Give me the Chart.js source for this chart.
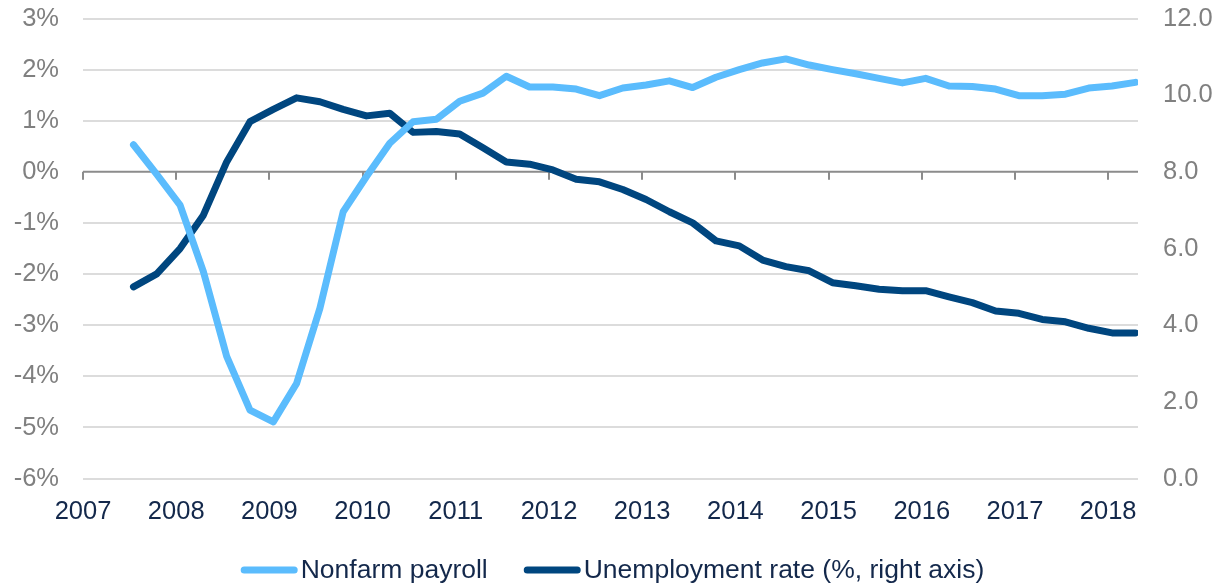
<!DOCTYPE html>
<html>
<head>
<meta charset="utf-8">
<script src="https://cdn.jsdelivr.net/npm/chart.js@4"></script>
<style>
html,body{margin:0;padding:0;background:#fff;}
#wrap{width:1227px;height:585px;position:relative;}
</style>
</head>
<body>
<div id="wrap"><canvas id="c" width="1227" height="585"></canvas></div>
<script>
const quarters = ['2007Q3','2007Q4','2008Q1','2008Q2','2008Q3','2008Q4','2009Q1','2009Q2','2009Q3','2009Q4',
  '2010Q1','2010Q2','2010Q3','2010Q4','2011Q1','2011Q2','2011Q3','2011Q4','2012Q1','2012Q2','2012Q3','2012Q4',
  '2013Q1','2013Q2','2013Q3','2013Q4','2014Q1','2014Q2','2014Q3','2014Q4','2015Q1','2015Q2','2015Q3','2015Q4',
  '2016Q1','2016Q2','2016Q3','2016Q4','2017Q1','2017Q2','2017Q3','2017Q4','2018Q1','2018Q2'];
const payroll = [0.53,-0.05,-0.65,-1.95,-3.61,-4.66,-4.89,-4.14,-2.67,-0.78,
  -0.09,0.56,0.98,1.03,1.38,1.54,1.87,1.66,1.66,1.62,1.49,1.64,
  1.70,1.78,1.65,1.85,2.00,2.13,2.21,2.09,2.00,1.92,1.83,1.74,
  1.83,1.68,1.67,1.62,1.49,1.49,1.52,1.64,1.68,1.75];
const unemployment = [5.00,5.34,6.00,6.87,8.26,9.31,9.63,9.93,9.83,9.63,
  9.46,9.53,9.03,9.05,8.99,8.63,8.26,8.20,8.05,7.81,7.74,7.54,
  7.28,6.96,6.67,6.20,6.07,5.70,5.53,5.42,5.11,5.03,4.94,4.90,
  4.90,4.74,4.59,4.37,4.31,4.15,4.09,3.92,3.80,3.80];
const leftTicks = [-6,-5,-4,-3,-2,-1,0,1,2,3];
const rightTicks = [0,2,4,6,8,10,12];
const yearTicks = [2007,2008,2009,2010,2011,2012,2013,2014,2015,2016,2017,2018];

function qToX(q){ const y = parseInt(q.slice(0,4),10); const n = parseInt(q.slice(5),10); return y + (n-1)/4 + 1/24; }
const payrollPts = quarters.map((q,i)=>({x:qToX(q), y:payroll[i]}));
const unempPts = quarters.map((q,i)=>({x:qToX(q), y:unemployment[i]}));

const FONT = '"Liberation Sans", Arial, sans-serif';
const zeroLine = {
  id:'zeroLine',
  beforeDatasetsDraw(chart){
    const {ctx, chartArea, scales} = chart;
    const y0 = scales.y.getPixelForValue(0);
    ctx.save();
    ctx.strokeStyle = '#8c8c8c';
    ctx.lineWidth = 2;
    ctx.beginPath();
    ctx.moveTo(chartArea.left, y0);
    ctx.lineTo(chartArea.right, y0);
    yearTicks.forEach(yr=>{
      const x = Math.round(scales.x.getPixelForValue(yr));
      ctx.moveTo(x, y0);
      ctx.lineTo(x, y0+8);
    });
    ctx.stroke();
    ctx.restore();
  }
};

const customLegend = {
  id:'customLegend',
  afterDraw(chart){
    const ctx = chart.ctx;
    const ds = chart.data.datasets;
    const lineW = 57, gap = 3, spacing = 36, yMid = 570;
    ctx.save();
    ctx.font = '26.5px ' + FONT;
    const widths = ds.map(d=>ctx.measureText(d.label).width);
    let total = 0;
    widths.forEach((w,i)=>{ total += lineW + gap + w + (i>0?spacing:0); });
    let x = (chart.width - total)/2 - 1;
    ds.forEach((d,i)=>{
      ctx.strokeStyle = d.borderColor;
      ctx.lineWidth = 7;
      ctx.lineCap = 'round';
      ctx.beginPath();
      ctx.moveTo(x+3.5, yMid);
      ctx.lineTo(x+lineW-3.5, yMid);
      ctx.stroke();
      ctx.fillStyle = '#13284b';
      ctx.textBaseline = 'middle';
      ctx.textAlign = 'left';
      ctx.fillText(d.label, x+lineW+gap, yMid+1);
      x += lineW + gap + widths[i] + spacing;
    });
    ctx.restore();
  }
};

new Chart(document.getElementById('c'), {
  type:'line',
  data:{
    datasets:[
      {label:'Nonfarm payroll', data:payrollPts, yAxisID:'y', borderColor:'#5bbcfd', backgroundColor:'#5bbcfd',
       borderWidth:7, pointRadius:0, tension:0, borderCapStyle:'round', borderJoinStyle:'round'},
      {label:'Unemployment rate (%, right axis)', data:unempPts, yAxisID:'y2', borderColor:'#00467f', backgroundColor:'#00467f',
       borderWidth:7, pointRadius:0, tension:0, borderCapStyle:'round', borderJoinStyle:'round'}
    ]
  },
  options:{
    responsive:false,
    animation:false,
    layout:{padding:{top:18.5, left:0, right:0, bottom:0}},
    plugins:{
      tooltip:{enabled:false},
      legend:{display:false}
    },
    scales:{
      x:{
        type:'linear', min:2007, max:2018.32,
        afterFit(s){ s.height = 106.4; },
        grid:{display:false}, border:{display:false},
        afterBuildTicks(s){ s.ticks = yearTicks.map(v=>({value:v})); },
        ticks:{font:{family:FONT, size:25.5}, color:'#13284b', padding:10, autoSkip:false, maxRotation:0,
          callback:(v)=>String(v)}
      },
      y:{
        position:'left', min:-6, max:3,
        afterFit(s){ s.width = 83; },
        afterBuildTicks(s){ s.ticks = leftTicks.map(v=>({value:v})); },
        grid:{color:(c)=>c.tick && c.tick.value===0 ? 'rgba(0,0,0,0)' : '#dcdcdc', lineWidth:2,
          drawTicks:true, tickLength:24, tickColor:'rgba(0,0,0,0)'},
        border:{display:false},
        ticks:{font:{family:FONT, size:25.5}, color:'#808080', padding:0, callback:(v)=>v+'%'}
      },
      y2:{
        position:'right', min:0, max:12,
        afterFit(s){ s.width = 89; },
        afterBuildTicks(s){ s.ticks = rightTicks.map(v=>({value:v})); },
        grid:{drawOnChartArea:false, drawTicks:true, tickLength:25, tickColor:'rgba(0,0,0,0)'}, border:{display:false},
        ticks:{font:{family:FONT, size:25.5}, color:'#808080', padding:0, callback:(v)=>Number(v).toFixed(1)}
      }
    }
  },
  plugins:[zeroLine, customLegend]
});
</script>
</body>
</html>
